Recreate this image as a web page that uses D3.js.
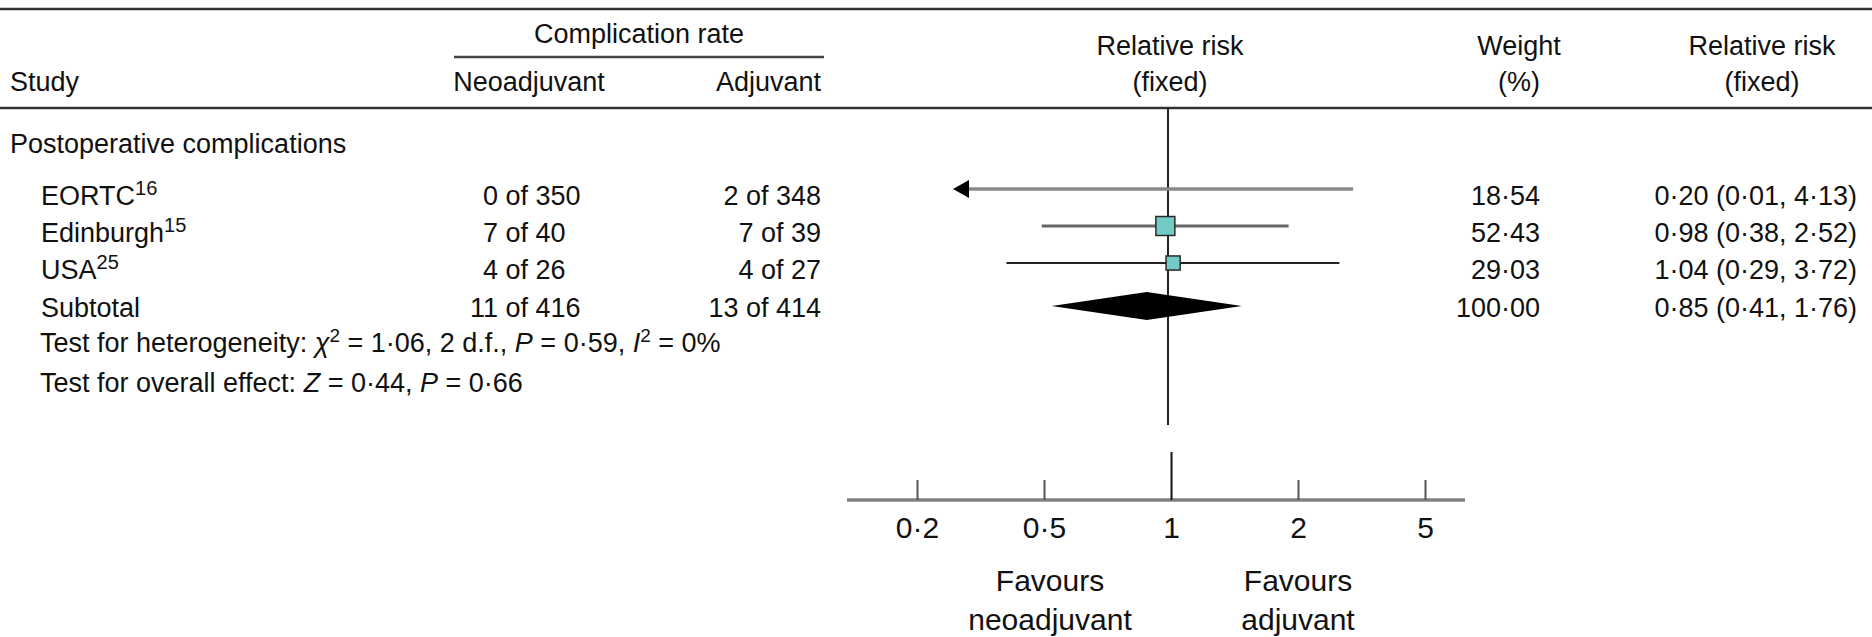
<!DOCTYPE html>
<html>
<head>
<meta charset="utf-8">
<script src="https://cdn.jsdelivr.net/npm/d3@7"></script>
<style>
  body { margin: 0; background: #fff; }
  svg text { font-family: "Liberation Sans", Arial, Helvetica, sans-serif; fill: #111; }
</style>
</head>
<body>
<div id="forest"></div>
<script>
// data
var studies = ["EORTC", "Edinburgh", "USA"];
var refs = ["16", "15", "25"];
var neoEvents = [0, 7, 4];
var neoTotal = [350, 40, 26];
var adjEvents = [2, 7, 4];
var adjTotal = [348, 39, 27];
var rr = [0.20, 0.98, 1.04];
var rrLow = [0.01, 0.38, 0.29];
var rrHigh = [4.13, 2.52, 3.72];
var weights = [18.54, 52.43, 29.03];

var subNeo = [11, 416];
var subAdj = [13, 414];
var subRR = 0.85, subLow = 0.41, subHigh = 1.76, subWeight = 100.00;

var tickLabels = ["0·2", "0·5", "1", "2", "5"];

var svgWidth = 1872;
var svgHeight = 637;

var svg = d3.select("#forest")
    .append("svg")
    .attr("width", svgWidth)
    .attr("height", svgHeight);

var dot = function (v, p) { return d3.format("." + p + "f")(v).replace(".", "·"); };

// scales
var x = d3.scaleLog().domain([0.2, 5]).range([958, 1378]);
var rowY = d3.scalePoint().domain(studies.concat(["Subtotal"])).range([189, 300]);
var boxSize = d3.scaleSqrt().domain([0, 100]).range([0, 26.2]);
var tickX = d3.scalePoint().domain(tickLabels).range([917, 1425]);

// rules
[9, 108].forEach(function (y) {
    svg.append("line")
        .attr("x1", 0).attr("x2", svgWidth)
        .attr("y1", y).attr("y2", y)
        .attr("stroke", "#333").attr("stroke-width", 2.5);
});
svg.append("line")
    .attr("x1", 454).attr("x2", 824)
    .attr("y1", 57).attr("y2", 57)
    .attr("stroke", "#444").attr("stroke-width", 2.5);

// headers
function label(txt, xp, yp, anchor, size) {
    return svg.append("text")
        .attr("x", xp).attr("y", yp)
        .attr("text-anchor", anchor || "start")
        .attr("font-size", size || 27)
        .text(txt);
}
label("Complication rate", 639, 43, "middle");
label("Study", 10, 91);
label("Neoadjuvant", 529, 91, "middle");
label("Adjuvant", 821, 91, "end");
label("Relative risk", 1170, 55, "middle");
label("(fixed)", 1170, 91, "middle");
label("Weight", 1519, 55, "middle");
label("(%)", 1519, 91, "middle");
label("Relative risk", 1762, 55, "middle");
label("(fixed)", 1762, 91, "middle");

label("Postoperative complications", 10, 153);

// line of no effect
svg.append("line")
    .attr("x1", x(1)).attr("x2", x(1))
    .attr("y1", 108).attr("y2", 425)
    .attr("stroke", "#222").attr("stroke-width", 2);

// study rows
var rows = studies.map(function (s, i) {
    return { name: s, ref: refs[i], ne: neoEvents[i], nt: neoTotal[i], ae: adjEvents[i], at: adjTotal[i],
             rr: rr[i], lo: rrLow[i], hi: rrHigh[i], w: weights[i] };
});

var lineStyles = [["#8a8a8a", 3.5], ["#666", 3], ["#222", 2]];

rows.forEach(function (d, i) {
    var y = rowY(d.name);
    var base = y + 16;

    var t = label(d.name, 41, base);
    t.append("tspan").attr("font-size", 20).attr("dy", -10).text(d.ref);

    label(d.ne, 498, base, "end");
    label(" of " + d.nt, 498, base).attr("xml:space", "preserve");
    label(d.ae + " of " + d.at, 821, base, "end");
    label(dot(d.w, 2), 1540, base, "end");
    label(dot(d.rr, 2) + " (" + dot(d.lo, 2) + ", " + dot(d.hi, 2) + ")", 1857, base, "end");

    var lo = Math.max(d.lo, x.domain()[0]);
    var hi = Math.min(d.hi, x.domain()[1]);
    svg.append("line")
        .attr("x1", x(lo)).attr("x2", x(hi))
        .attr("y1", y).attr("y2", y)
        .attr("stroke", lineStyles[i][0]).attr("stroke-width", lineStyles[i][1]);

    if (d.lo < x.domain()[0]) {
        // off-scale lower limit: arrowhead
        var tip = x(x.domain()[0]) - 5;
        svg.append("path")
            .attr("d", "M" + tip + "," + y + "L" + (tip + 16) + "," + (y - 9) + "L" + (tip + 16) + "," + (y + 9) + "Z")
            .attr("fill", "#000");
    } else {
        var s = boxSize(d.w);
        svg.append("rect")
            .attr("x", x(d.rr) - s / 2).attr("y", y - s / 2)
            .attr("width", s).attr("height", s)
            .attr("fill", "#72cbc6")
            .attr("stroke", "#2a2a2a").attr("stroke-width", 1.5);
    }
});

// subtotal
var sy = rowY("Subtotal");
label("Subtotal", 41, sy + 17);
label(subNeo[0], 498, sy + 17, "end");
label(" of " + subNeo[1], 498, sy + 17).attr("xml:space", "preserve");
label(subAdj[0] + " of " + subAdj[1], 821, sy + 17, "end");
label(dot(subWeight, 2), 1540, sy + 17, "end");
label(dot(subRR, 2) + " (" + dot(subLow, 2) + ", " + dot(subHigh, 2) + ")", 1857, sy + 17, "end");

var dy = sy + 6;
svg.append("path")
    .attr("d", "M" + x(subLow) + "," + dy +
               "L" + x(subRR) + "," + (dy - 14) +
               "L" + x(subHigh) + "," + dy +
               "L" + x(subRR) + "," + (dy + 14) + "Z")
    .attr("fill", "#000");

// heterogeneity / overall effect
var het = label("Test for heterogeneity: ", 40, 352).attr("xml:space", "preserve");
het.append("tspan").attr("font-style", "italic").text("χ");
het.append("tspan").attr("font-size", 19).attr("dy", -10).text("2");
het.append("tspan").attr("dy", 10).text(" = 1·06, 2 d.f., ");
het.append("tspan").attr("font-style", "italic").text("P");
het.append("tspan").text(" = 0·59, ");
het.append("tspan").attr("font-style", "italic").text("I");
het.append("tspan").attr("font-size", 19).attr("dy", -10).text("2");
het.append("tspan").attr("dy", 10).text(" = 0%");

var ov = label("Test for overall effect: ", 40, 392).attr("xml:space", "preserve");
ov.append("tspan").attr("font-style", "italic").text("Z");
ov.append("tspan").text(" = 0·44, ");
ov.append("tspan").attr("font-style", "italic").text("P");
ov.append("tspan").text(" = 0·66");

// bottom axis
svg.append("line")
    .attr("x1", 847).attr("x2", 1465)
    .attr("y1", 500).attr("y2", 500)
    .attr("stroke", "#808080").attr("stroke-width", 3.5);

var axis = svg.append("g")
    .attr("transform", "translate(0, 500)")
    .call(d3.axisBottom(tickX).tickSize(-20).tickPadding(17));

axis.select(".domain").remove();
axis.selectAll(".tick line").attr("stroke", "#555").attr("stroke-width", 2);
axis.selectAll(".tick text")
    .attr("font-size", 30)
    .attr("font-family", "Liberation Sans, Arial, sans-serif")
    .attr("fill", "#111");
axis.selectAll(".tick").filter(function (d) { return d === "1"; })
    .select("line").attr("y2", -48).attr("stroke", "#111");

label("Favours", 1050, 591, "middle", 30);
label("neoadjuvant", 1050, 630, "middle", 30);
label("Favours", 1298, 591, "middle", 30);
label("adjuvant", 1298, 630, "middle", 30);
</script>
</body>
</html>
